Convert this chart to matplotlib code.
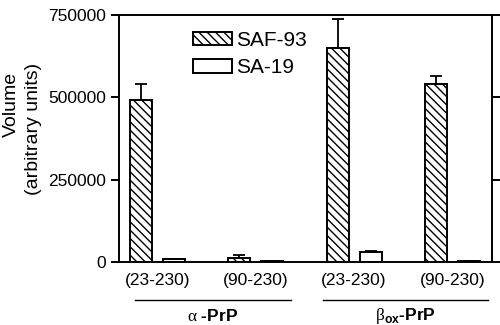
import numpy as np
import matplotlib
matplotlib.use("Agg")
import matplotlib.pyplot as plt
from matplotlib.ticker import FixedLocator

plt.rcParams["font.family"] = ["Liberation Sans", "DejaVu Sans"]
plt.rcParams["mathtext.fontset"] = "custom"
plt.rcParams["mathtext.rm"] = "Liberation Serif"
plt.rcParams["mathtext.bf"] = "Liberation Sans:bold"
plt.rcParams["hatch.linewidth"] = 1.0

# data
groups = ["(23-230)", "(90-230)", "(23-230)", "(90-230)"]
saf93 = [491000, 11000, 649000, 541000]
saf93_err = [49000, 9000, 89000, 22000]
sa19 = [8000, 2000, 29000, 1500]
sa19_err = [1000, 1000, 4000, 500]
yticks = [0, 250000, 500000, 750000]

x = np.arange(len(groups))
w = 0.224
off = 0.168

fig = plt.figure(figsize=(5, 3.25), dpi=100)
ax = fig.add_axes([0.238, 0.194, 0.746, 0.761])

ekw = dict(elinewidth=1.3, capthick=1.3, capsize=4, ecolor="black")
ax.bar(x - off, saf93, w, yerr=[np.zeros(4), saf93_err], facecolor="white",
       edgecolor="black", linewidth=1.4, hatch="\\\\\\\\", label="SAF-93",
       error_kw=ekw)
ax.bar(x + off, sa19, w, yerr=[np.zeros(4), sa19_err], facecolor="white",
       edgecolor="black", linewidth=1.4, label="SA-19", error_kw=ekw)

ax.set_xlim(-0.392, 3.403)
ax.set_ylim(0, 750000)
ax.yaxis.set_major_locator(FixedLocator(yticks))
ax.set_yticklabels([str(t) for t in yticks])
ax.set_xticks(x)
ax.set_xticklabels(groups)
ax.tick_params(axis="x", length=0, pad=8, labelsize=12.5)
ax.tick_params(axis="y", right=True, direction="out", length=6, width=1.4,
               labelsize=12.5)
for s in ax.spines.values():
    s.set_linewidth(1.4)

# y label, two lines placed separately (they are not centred on each other)
fig.text(11 / 500, 1 - 104 / 325, "Volume", rotation=90, ha="center",
         va="center", fontsize=14)
fig.text(34 / 500, 1 - 129 / 325, "(arbitrary units)", rotation=90,
         ha="center", va="center", fontsize=14)

# group brackets under the axis
trans = ax.get_xaxis_transform()
for x0, x1, lab in [(-0.229, 1.358, r"$\mathrm{\alpha}$ -PrP"),
                    (1.683, 3.363, r"$\mathrm{\beta}_{\mathbf{ox}}$-PrP")]:
    ax.plot([x0, x1], [-0.154, -0.154], color="black", lw=1.0,
            transform=trans, clip_on=False)
    ax.text((x0 + x1) / 2, -0.218, lab, transform=trans, ha="center",
            va="center", fontsize=12.5, fontweight="bold")

ax.legend(loc="upper left", bbox_to_anchor=(0.198, 0.935), frameon=False,
          fontsize=15, handlelength=1.87, handleheight=0.63,
          labelspacing=0.4, handletextpad=0.2, borderpad=0,
          borderaxespad=0)

fig.savefig("out.png", dpi=100)
